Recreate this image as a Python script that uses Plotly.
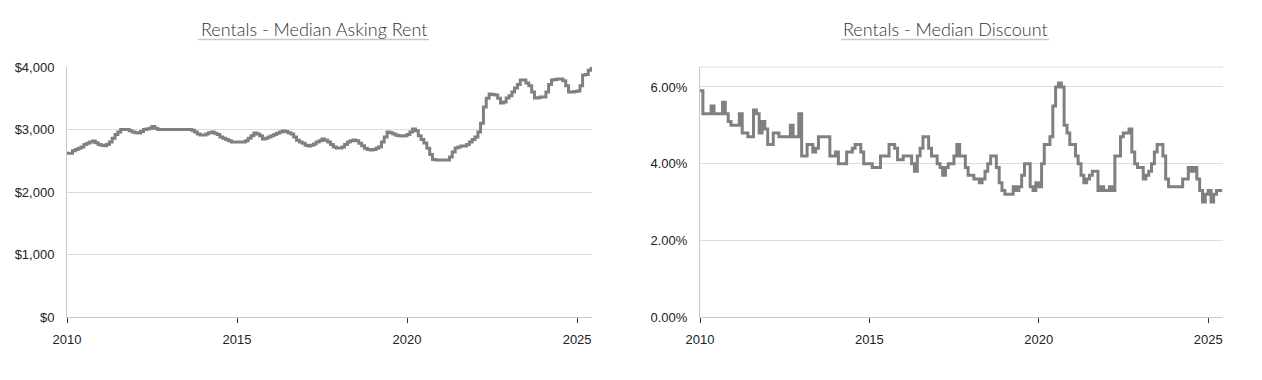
import pandas as pd
import plotly.graph_objects as go

# ---------------- data (monthly, Jan 2010 - Jun 2025) ----------------
rent_2010 = [2620, 2620, 2660, 2680, 2700, 2720, 2760, 2780, 2800, 2816, 2790, 2760]
rent_2011 = [2750, 2740, 2760, 2800, 2860, 2920, 2960, 3000, 3000, 3000, 2980, 2960]
rent_2012 = [2950, 2944, 2970, 3000, 3010, 3020, 3050, 3020, 3000, 3000, 3000, 3000]
rent_2013 = [3000, 3000, 3000, 3000, 3000, 3000, 3000, 3000, 2990, 2960, 2930, 2912]
rent_2014 = [2912, 2930, 2950, 2960, 2940, 2920, 2880, 2860, 2840, 2820, 2800, 2800]
rent_2015 = [2800, 2800, 2800, 2820, 2860, 2900, 2944, 2930, 2900, 2848, 2860, 2880]
rent_2016 = [2900, 2920, 2940, 2960, 2976, 2970, 2950, 2930, 2880, 2830, 2800, 2780]
rent_2017 = [2750, 2736, 2750, 2770, 2800, 2820, 2848, 2830, 2800, 2760, 2720, 2704]
rent_2018 = [2704, 2720, 2760, 2800, 2820, 2832, 2820, 2780, 2740, 2700, 2680, 2672]
rent_2019 = [2680, 2700, 2720, 2800, 2880, 2960, 2950, 2930, 2910, 2900, 2896, 2900]
rent_2020 = [2920, 2960, 3008, 2980, 2900, 2840, 2784, 2700, 2600, 2520, 2512, 2512]
rent_2021 = [2512, 2512, 2512, 2560, 2640, 2704, 2720, 2736, 2736, 2760, 2800, 2840]
rent_2022 = [2880, 2960, 3100, 3360, 3500, 3568, 3560, 3552, 3500, 3424, 3440, 3504]
rent_2023 = [3540, 3600, 3664, 3720, 3792, 3792, 3744, 3700, 3600, 3504, 3510, 3520]
rent_2024 = [3520, 3600, 3720, 3792, 3800, 3808, 3808, 3780, 3700, 3600, 3600, 3610]
rent_2025 = [3616, 3700, 3872, 3880, 3950, 4016]

disc_2010 = [5.9, 5.3, 5.3, 5.3, 5.5, 5.3, 5.3, 5.3, 5.6, 5.3, 5.1, 5.0]
disc_2011 = [5.0, 5.0, 5.3, 4.8, 4.8, 4.7, 4.7, 5.4, 5.3, 4.8, 5.1, 4.9]
disc_2012 = [4.5, 4.5, 4.8, 4.8, 4.7, 4.7, 4.7, 4.7, 5.0, 4.7, 4.7, 5.3]
disc_2013 = [4.2, 4.2, 4.5, 4.5, 4.3, 4.4, 4.7, 4.7, 4.7, 4.7, 4.2, 4.2]
disc_2014 = [4.3, 4.0, 4.0, 4.0, 4.3, 4.3, 4.4, 4.5, 4.5, 4.3, 4.0, 4.0]
disc_2015 = [4.0, 3.9, 3.9, 3.9, 4.2, 4.2, 4.2, 4.5, 4.5, 4.4, 4.1, 4.1]
disc_2016 = [4.2, 4.2, 4.2, 4.0, 3.8, 4.2, 4.4, 4.7, 4.7, 4.4, 4.2, 4.2]
disc_2017 = [4.0, 3.9, 3.7, 3.9, 4.0, 4.0, 4.2, 4.5, 4.2, 4.2, 3.9, 3.7]
disc_2018 = [3.7, 3.6, 3.6, 3.5, 3.6, 3.8, 4.0, 4.2, 4.2, 3.9, 3.5, 3.3]
disc_2019 = [3.2, 3.2, 3.2, 3.4, 3.3, 3.4, 3.7, 4.0, 4.0, 3.4, 3.3, 3.5]
disc_2020 = [3.4, 4.0, 4.5, 4.5, 4.7, 5.5, 6.0, 6.1, 6.0, 5.0, 4.8, 4.5]
disc_2021 = [4.5, 4.2, 4.0, 3.7, 3.5, 3.6, 3.7, 3.8, 3.8, 3.3, 3.4, 3.3]
disc_2022 = [3.3, 3.4, 3.3, 4.2, 4.2, 4.7, 4.8, 4.8, 4.9, 4.3, 4.0, 3.9]
disc_2023 = [3.9, 3.6, 3.7, 3.8, 4.0, 4.3, 4.5, 4.5, 4.2, 3.6, 3.4, 3.4]
disc_2024 = [3.4, 3.4, 3.4, 3.6, 3.6, 3.9, 3.8, 3.9, 3.6, 3.3, 3.0, 3.2]
disc_2025 = [3.3, 3.0, 3.2, 3.3, 3.3, 3.3]

asking_rent = (rent_2010 + rent_2011 + rent_2012 + rent_2013 + rent_2014 + rent_2015
               + rent_2016 + rent_2017 + rent_2018 + rent_2019 + rent_2020 + rent_2021
               + rent_2022 + rent_2023 + rent_2024 + rent_2025)
median_discount = (disc_2010 + disc_2011 + disc_2012 + disc_2013 + disc_2014 + disc_2015
                   + disc_2016 + disc_2017 + disc_2018 + disc_2019 + disc_2020 + disc_2021
                   + disc_2022 + disc_2023 + disc_2024 + disc_2025)

x_tick_dates = ["2010-01-01", "2015-01-01", "2020-01-01", "2025-01-01"]
x_tick_labels = ["2010", "2015", "2020", "2025"]
rent_ticks = [0, 1000, 2000, 3000, 4000]
rent_tick_labels = ["$0", "$1,000", "$2,000", "$3,000", "$4,000"]
disc_ticks = [0, 2, 4, 6]
disc_tick_labels = ["0.00%", "2.00%", "4.00%", "6.00%"]
titles = ["Rentals - Median Asking Rent", "Rentals - Median Discount"]

months = pd.date_range("2010-01-01", periods=len(asking_rent), freq="MS")

# ---------------- figure ----------------
W, H = 1262, 380
OFF = 8  # page body margin offset
LINE = "#808080"
GRID = "#dddddd"
AXIS = "#c8c8c8"
TICKFONT = dict(family="Liberation Sans, Arial, sans-serif", size=13, color="#222222")


def fx(px):
    return (px - OFF) / W


def fy(py):
    return 1 - (py - OFF) / H


fig = go.Figure()
fig.add_trace(go.Scatter(x=months, y=asking_rent, mode="lines",
                         line=dict(color=LINE, width=3, shape="hv"),
                         xaxis="x", yaxis="y", hoverinfo="skip", showlegend=False))
fig.add_trace(go.Scatter(x=months, y=median_discount, mode="lines",
                         line=dict(color=LINE, width=3, shape="hv"),
                         xaxis="x2", yaxis="y2", hoverinfo="skip", showlegend=False))


def xaxis_cfg(domain, anchor):
    return dict(domain=domain, anchor=anchor, type="date", automargin=False,
                range=["2010-01-01", "2025-06-10"],
                tickmode="array", tickvals=x_tick_dates, ticktext=x_tick_labels,
                showgrid=False, zeroline=False,
                showline=True, linecolor=AXIS, linewidth=1,
                ticks="outside", ticklen=5, tickcolor="#333333", tickwidth=1,
                ticklabelstandoff=5,
                tickfont=TICKFONT, fixedrange=True)


def yaxis_cfg(domain, anchor, rng, tickvals, ticktext):
    return dict(domain=domain, anchor=anchor, range=rng, automargin=False,
                tickmode="array", tickvals=tickvals, ticktext=ticktext,
                showgrid=True, gridcolor=GRID, gridwidth=1, zeroline=False,
                showline=True, linecolor=AXIS, linewidth=1,
                ticks="", ticklabelstandoff=9,
                tickfont=TICKFONT, fixedrange=True)


ydom = [fy(317), fy(67)]
fig.update_layout(
    width=W, height=H,
    margin=dict(l=0, r=0, t=0, b=0, autoexpand=False),
    paper_bgcolor="white", plot_bgcolor="white",
    xaxis=xaxis_cfg([fx(67), fx(592)], "y"),
    yaxis=yaxis_cfg(ydom, "x", [0, 4000], rent_ticks, rent_tick_labels),
    xaxis2=xaxis_cfg([fx(700), fx(1223)], "y2"),
    yaxis2=yaxis_cfg(ydom, "x2", [0, 6.52], disc_ticks, disc_tick_labels),
)

# top border on right chart
fig.add_shape(type="line", xref="x2 domain", yref="y2 domain", x0=0, x1=1, y0=1, y1=1,
              line=dict(color=GRID, width=1))

# titles with gray underline
title_font = dict(family="Lato, Roboto, sans-serif", size=18, color="#333333", weight=300)
title_centers = [313.5, 945.5]
underline_spans = [(198, 429), (841, 1049)]
for t, cx, (u0, u1) in zip(titles, title_centers, underline_spans):
    fig.add_annotation(text=t, x=fx(cx), y=fy(29), xref="paper", yref="paper",
                       xanchor="center", yanchor="middle", showarrow=False, font=title_font)
    fig.add_shape(type="line", xref="paper", yref="paper",
                  x0=fx(u0), x1=fx(u1), y0=fy(39.5), y1=fy(39.5),
                  line=dict(color="#c8c8c8", width=1.5))

fig.write_html("out.html")
